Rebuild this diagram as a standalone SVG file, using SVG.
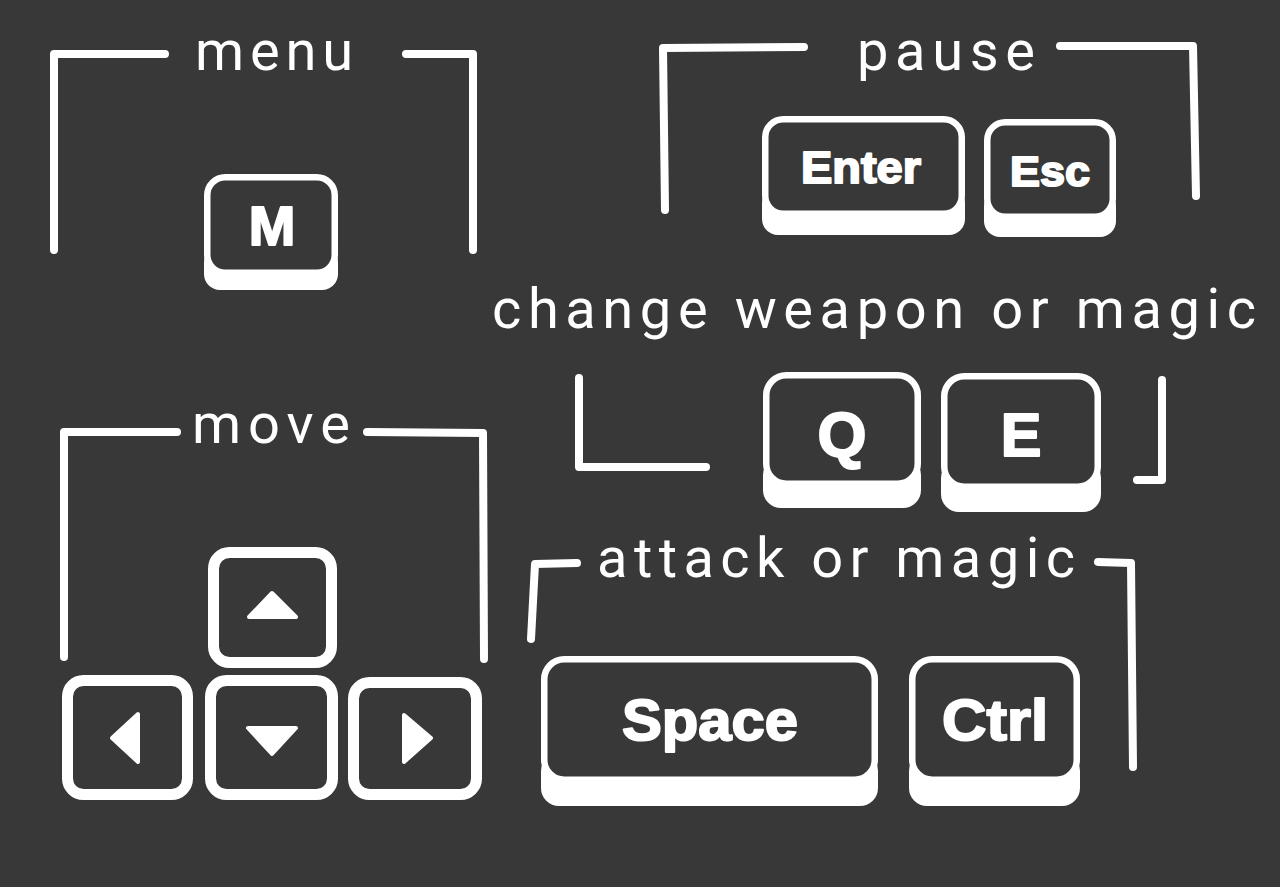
<svg xmlns="http://www.w3.org/2000/svg" width="1280" height="887" viewBox="0 0 1280 887">
<style>
.bg{fill:#383838}
.br{fill:none;stroke:#fff;stroke-width:8;stroke-linecap:round;stroke-linejoin:round}
.t{font-family:Roboto,"Liberation Sans",sans-serif;font-size:56px;fill:#fff}
.skirt{fill:#fff}
.face{fill:#383838;stroke:#fff;stroke-width:6.5}
.flat{fill:#383838;stroke:#fff;stroke-width:11}
.k{font-family:"Liberation Sans",Arial,sans-serif;font-weight:bold;fill:#fff;stroke:#fff;stroke-width:2;stroke-linejoin:round;text-anchor:middle}
.arr{fill:#fff;stroke:#fff;stroke-width:4;stroke-linejoin:round}
</style>
<rect class="bg" x="0" y="0" width="1280" height="887"/>

<g id="connectors">
  <polyline class="br" points="165,54 54,54 54,250"/>
  <polyline class="br" points="406,54 473,54 473,250"/>
  <polyline class="br" points="804,47 663,48 665,210"/>
  <polyline class="br" points="1060,46 1193,46 1196,196"/>
  <polyline class="br" points="579,378 579,467 706,467"/>
  <polyline class="br" points="1162,380 1162,480 1137,480"/>
  <polyline class="br" points="177,432 64,432 64,657"/>
  <polyline class="br" points="367,432 483,433 484,659"/>
  <polyline class="br" points="577,563 535,564 531,639"/>
  <polyline class="br" points="1098,562 1131,563 1133,767"/>
</g>

<g id="labels">
  <text class="t" x="195" y="70" textLength="158" lengthAdjust="spacing">menu</text>
  <text class="t" x="857" y="70" textLength="178" lengthAdjust="spacing">pause</text>
  <text class="t" x="492" y="328" textLength="764" lengthAdjust="spacing">change weapon or magic</text>
  <text class="t" x="192" y="443" textLength="158" lengthAdjust="spacing">move</text>
  <text class="t" x="597" y="577" textLength="478" lengthAdjust="spacing">attack or magic</text>
</g>

<g id="key-m">
  <rect class="skirt" x="204" y="246" width="134" height="44" rx="16"/>
  <rect class="face" x="207.25" y="177.25" width="127.5" height="95.5" rx="18"/>
  <text class="k" x="272" y="245" font-size="56">M</text>
</g>

<g id="key-enter">
  <rect class="skirt" x="762" y="187" width="203" height="48" rx="16"/>
  <rect class="face" x="765.25" y="119.25" width="196.5" height="94.5" rx="18"/>
  <text class="k" x="861" y="183" font-size="45" textLength="120" lengthAdjust="spacingAndGlyphs">Enter</text>
</g>

<g id="key-esc">
  <rect class="skirt" x="984" y="190" width="132" height="47" rx="16"/>
  <rect class="face" x="987.25" y="122.25" width="125.5" height="94.5" rx="18"/>
  <text class="k" x="1050" y="186" font-size="43" textLength="80" lengthAdjust="spacingAndGlyphs">Esc</text>
</g>

<g id="key-q">
  <rect class="skirt" x="763" y="457" width="158" height="51" rx="18"/>
  <rect class="face" x="766.25" y="375.25" width="151.5" height="108.5" rx="20"/>
  <text class="k" x="842" y="456" font-size="63">Q</text>
</g>

<g id="key-e">
  <rect class="skirt" x="941" y="460" width="160" height="52" rx="18"/>
  <rect class="face" x="944.25" y="376.25" width="153.5" height="110.5" rx="20"/>
  <text class="k" x="1021" y="456" font-size="61">E</text>
</g>

<g id="key-space">
  <rect class="skirt" x="541" y="753" width="337" height="53" rx="18"/>
  <rect class="face" x="544.25" y="659.25" width="330.5" height="120.5" rx="20"/>
  <text class="k" x="710" y="740" font-size="58" textLength="176" lengthAdjust="spacingAndGlyphs">Space</text>
</g>

<g id="key-ctrl">
  <rect class="skirt" x="909" y="753" width="171" height="53" rx="18"/>
  <rect class="face" x="912.25" y="659.25" width="164.5" height="120.5" rx="20"/>
  <text class="k" x="995" y="740" font-size="58" textLength="106" lengthAdjust="spacingAndGlyphs">Ctrl</text>
</g>

<g id="key-up">
  <rect class="flat" x="213.5" y="552.5" width="118" height="110" rx="16"/>
  <polygon class="arr" points="272,593 296,617 249,617"/>
</g>
<g id="key-left">
  <rect class="flat" x="67.5" y="680.5" width="120" height="114" rx="16"/>
  <polygon class="arr" points="112,738 138,714 138,762"/>
</g>
<g id="key-down">
  <rect class="flat" x="210.5" y="680.5" width="122" height="114" rx="16"/>
  <polygon class="arr" points="248,728 296,728 272,754"/>
</g>
<g id="key-right">
  <rect class="flat" x="353.5" y="682.5" width="123" height="112" rx="16"/>
  <polygon class="arr" points="404,715 431,738 404,762"/>
</g>
</svg>
